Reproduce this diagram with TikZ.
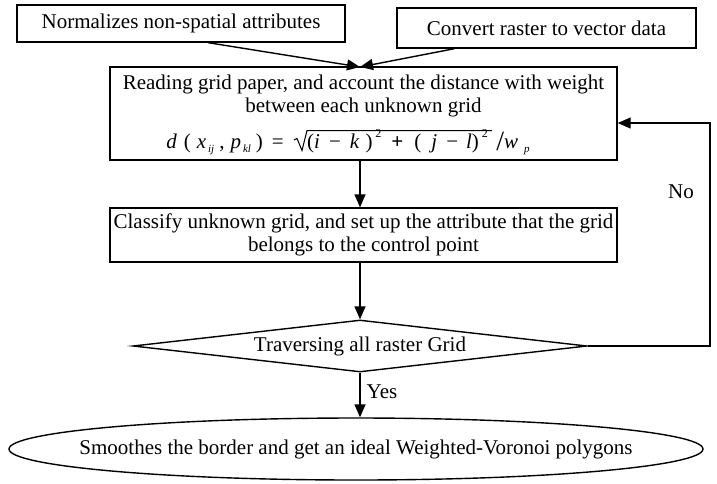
\documentclass[tikz,border=0pt]{standalone}
\usepackage{fontspec}
\setmainfont{Liberation Serif}
\usetikzlibrary{arrows.meta,shapes.geometric,calc}
\newcommand{\sbx}[1]{\raisebox{-0.45ex}{\fontsize{11}{11}\selectfont\textit{#1}}}
\newcommand{\spx}[1]{\raisebox{1.1ex}{\fontsize{12}{12}\selectfont #1}}
\begin{document}
\begin{tikzpicture}[x=1pt,y=-1pt,
  every node/.style={font=\fontsize{21}{23}\selectfont,inner sep=0pt},
  box/.style={draw,line width=1.4pt,inner sep=0pt,align=center},
  arr/.style={line width=1.4pt,-{Triangle[length=13pt,width=11pt]}},
  rad/.style={line width=1pt,line join=miter}]
\useasboundingbox (0,0) rectangle (717,483);
\node[box,minimum width=328pt,minimum height=37pt] (b1) at (181,23.5) {Normalizes non-spatial attributes};
\node[box,minimum width=299pt,minimum height=40pt] (b2) at (546.5,28) {Convert raster to vector data};
\node[box,minimum width=507pt,minimum height=93pt] (b3) at (363.5,113.5) {};
\node[anchor=base] (t3a) at (363.5,89) {Reading grid paper, and account the distance with weight};
\node[anchor=base] (t3b) at (363.5,112) {between each unknown grid};
\node[anchor=base east] (fl) at (284,148) {\textit{d}\hspace{7pt}(\hspace{6pt}\textit{x}\hspace{2pt}\sbx{ij}\hspace{5pt},\hspace{6pt}\textit{p}\hspace{2pt}\sbx{kl}\hspace{5pt})\hspace{9pt}=};
\node[anchor=base west] (fin) at (307,148) {(\textit{i}\hspace{9pt}−\hspace{9pt}\textit{k}\hspace{6pt})\hspace{3pt}\spx{2}\hspace{10pt}\textbf{+}\hspace{11pt}(\hspace{10pt}\textit{j}\hspace{9pt}−\hspace{8pt}\textit{l})\hspace{3pt}\spx{2}};
\node[anchor=base west] (fr) at ($(fin.base east)+(8,0)$) {\raisebox{-0.3ex}{\fontsize{28}{28}\selectfont /}\textit{w}\hspace{6pt}\sbx{p}};
\draw[rad] ($(fin.base west)+(-13,-8)$) -- ++(3,-1.5) -- ++(5,12) -- ++(5,-20) -- ($(fin.base east)+(4,-17.5)$);
\node[box,minimum width=507pt,minimum height=54pt] (b4) at (363.5,235) {Classify unknown grid, and set up the attribute that the grid\\belongs to the control point};
\node[draw,line width=1.4pt,diamond,aspect=8.7,inner sep=0pt,minimum width=454pt,minimum height=52pt] (dia) at (360,346) {Traversing all raster Grid};
\node[draw,line width=1.4pt,ellipse,inner sep=0pt,minimum width=694pt,minimum height=62pt] (ell) at (356,449) {};
\node (ellt) at (ell.center) {Smoothes the border and get an ideal Weighted-Voronoi polygons};
\coordinate (m) at (360,67);
\draw[arr] ($(b1.south west)+(192,0)$) -- (m);
\draw[arr] ($(b2.south west)+(58,0)$) -- (m);
\draw[arr] (b3.south -| m) -- (b4.north -| m);
\draw[arr] (b4.south -| m) -- (dia.north);
\draw[arr] (dia.south) -- (ell.north -| dia.south);
\coordinate (fb) at (710,346);
\draw[arr] (dia.east) -- (fb) |- ($(b3.east)+(0,9.5)$);
\node (no) at (681,192) {No};
\node (yes) at (382,392) {Yes};
\end{tikzpicture}
\end{document}
